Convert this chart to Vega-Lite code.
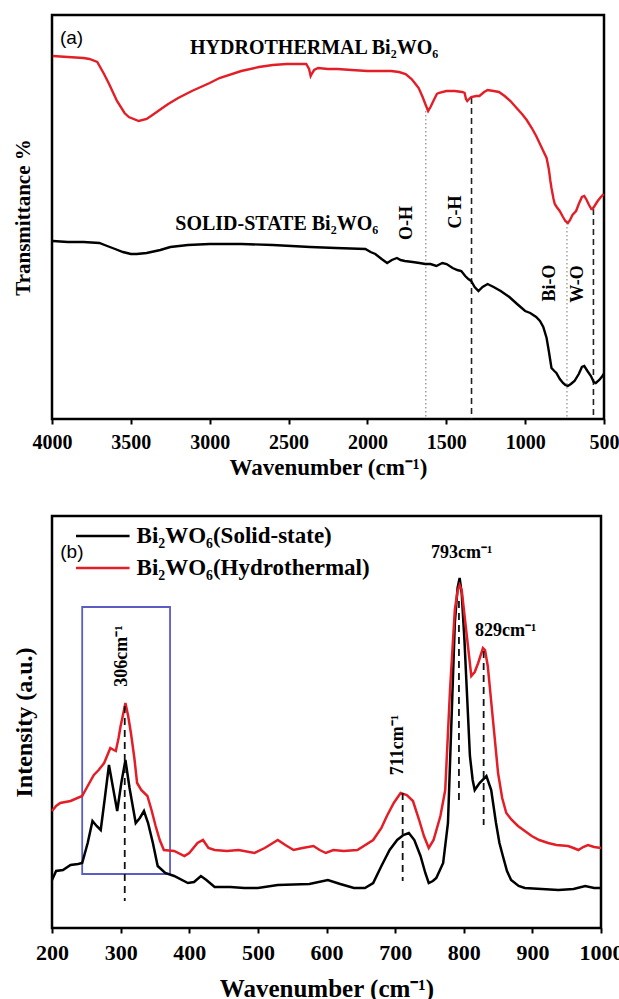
{
  "$schema": "https://vega.github.io/schema/vega-lite/v6.json",
  "background": "white",
  "padding": {"left": 10, "top": 13, "right": 0, "bottom": 0},
  "spacing": 33,
  "config": {
    "view": {"stroke": "#000", "strokeWidth": 2.5},
    "font": "Liberation Serif",
    "axis": {
      "labelFont": "Liberation Serif", "labelFontWeight": "bold", "labelFontSize": 20, "labelColor": "#000",
      "titleFont": "Liberation Serif", "titleFontWeight": "bold", "titleFontSize": 23, "titleColor": "#000",
      "domain": false, "grid": false, "tickColor": "#000", "tickWidth": 2, "tickSize": 5, "zindex": 1,
      "labelFlush": false, "labelOverlap": false
    }
  },
  "datasets": {
    "ftir": [
      {"sample":"Hydrothermal","wn":3995,"t":363},{"sample":"Hydrothermal","wn":3900,"t":362},{"sample":"Hydrothermal","wn":3800,"t":361},{"sample":"Hydrothermal","wn":3763,"t":360},{"sample":"Hydrothermal","wn":3713,"t":357},{"sample":"Hydrothermal","wn":3670,"t":345},{"sample":"Hydrothermal","wn":3638,"t":335},{"sample":"Hydrothermal","wn":3588,"t":318},{"sample":"Hydrothermal","wn":3540,"t":306},{"sample":"Hydrothermal","wn":3513,"t":302},{"sample":"Hydrothermal","wn":3450,"t":298},{"sample":"Hydrothermal","wn":3400,"t":300},{"sample":"Hydrothermal","wn":3363,"t":304},{"sample":"Hydrothermal","wn":3300,"t":311},{"sample":"Hydrothermal","wn":3263,"t":315},{"sample":"Hydrothermal","wn":3200,"t":321},{"sample":"Hydrothermal","wn":3113,"t":328},{"sample":"Hydrothermal","wn":3000,"t":336},{"sample":"Hydrothermal","wn":2938,"t":341},{"sample":"Hydrothermal","wn":2800,"t":348},{"sample":"Hydrothermal","wn":2688,"t":352},{"sample":"Hydrothermal","wn":2600,"t":354},{"sample":"Hydrothermal","wn":2513,"t":355},{"sample":"Hydrothermal","wn":2450,"t":355},{"sample":"Hydrothermal","wn":2388,"t":355},{"sample":"Hydrothermal","wn":2370,"t":350},{"sample":"Hydrothermal","wn":2360,"t":343},{"sample":"Hydrothermal","wn":2350,"t":346},{"sample":"Hydrothermal","wn":2338,"t":349},{"sample":"Hydrothermal","wn":2313,"t":351},{"sample":"Hydrothermal","wn":2250,"t":350},{"sample":"Hydrothermal","wn":2188,"t":350},{"sample":"Hydrothermal","wn":2100,"t":349},{"sample":"Hydrothermal","wn":2000,"t":348},{"sample":"Hydrothermal","wn":1938,"t":348},{"sample":"Hydrothermal","wn":1850,"t":348},{"sample":"Hydrothermal","wn":1800,"t":347},{"sample":"Hydrothermal","wn":1758,"t":345},{"sample":"Hydrothermal","wn":1720,"t":340},{"sample":"Hydrothermal","wn":1700,"t":336},{"sample":"Hydrothermal","wn":1675,"t":331},{"sample":"Hydrothermal","wn":1650,"t":322},{"sample":"Hydrothermal","wn":1633,"t":315},{"sample":"Hydrothermal","wn":1615,"t":308},{"sample":"Hydrothermal","wn":1600,"t":312},{"sample":"Hydrothermal","wn":1582,"t":318},{"sample":"Hydrothermal","wn":1560,"t":325},{"sample":"Hydrothermal","wn":1550,"t":326},{"sample":"Hydrothermal","wn":1500,"t":328},{"sample":"Hydrothermal","wn":1446,"t":328},{"sample":"Hydrothermal","wn":1400,"t":327},{"sample":"Hydrothermal","wn":1384,"t":326},{"sample":"Hydrothermal","wn":1375,"t":320},{"sample":"Hydrothermal","wn":1367,"t":318},{"sample":"Hydrothermal","wn":1355,"t":320},{"sample":"Hydrothermal","wn":1342,"t":322},{"sample":"Hydrothermal","wn":1310,"t":323},{"sample":"Hydrothermal","wn":1290,"t":323},{"sample":"Hydrothermal","wn":1260,"t":327},{"sample":"Hydrothermal","wn":1238,"t":329},{"sample":"Hydrothermal","wn":1200,"t":328},{"sample":"Hydrothermal","wn":1166,"t":327},{"sample":"Hydrothermal","wn":1130,"t":323},{"sample":"Hydrothermal","wn":1093,"t":318},{"sample":"Hydrothermal","wn":1060,"t":312},{"sample":"Hydrothermal","wn":1020,"t":305},{"sample":"Hydrothermal","wn":990,"t":299},{"sample":"Hydrothermal","wn":958,"t":291},{"sample":"Hydrothermal","wn":930,"t":283},{"sample":"Hydrothermal","wn":906,"t":275},{"sample":"Hydrothermal","wn":885,"t":268},{"sample":"Hydrothermal","wn":864,"t":261},{"sample":"Hydrothermal","wn":850,"t":250},{"sample":"Hydrothermal","wn":840,"t":238},{"sample":"Hydrothermal","wn":833,"t":231},{"sample":"Hydrothermal","wn":820,"t":220},{"sample":"Hydrothermal","wn":812,"t":215},{"sample":"Hydrothermal","wn":800,"t":212},{"sample":"Hydrothermal","wn":781,"t":208},{"sample":"Hydrothermal","wn":760,"t":202},{"sample":"Hydrothermal","wn":745,"t":198},{"sample":"Hydrothermal","wn":729,"t":196},{"sample":"Hydrothermal","wn":715,"t":199},{"sample":"Hydrothermal","wn":700,"t":204},{"sample":"Hydrothermal","wn":677,"t":208},{"sample":"Hydrothermal","wn":660,"t":215},{"sample":"Hydrothermal","wn":640,"t":222},{"sample":"Hydrothermal","wn":625,"t":223},{"sample":"Hydrothermal","wn":610,"t":219},{"sample":"Hydrothermal","wn":595,"t":214},{"sample":"Hydrothermal","wn":580,"t":210},{"sample":"Hydrothermal","wn":573,"t":210},{"sample":"Hydrothermal","wn":560,"t":213},{"sample":"Hydrothermal","wn":540,"t":218},{"sample":"Hydrothermal","wn":520,"t":222},{"sample":"Hydrothermal","wn":502,"t":225},
      {"sample":"Solid-state","wn":3995,"t":178},{"sample":"Solid-state","wn":3900,"t":177},{"sample":"Solid-state","wn":3800,"t":177},{"sample":"Solid-state","wn":3700,"t":176},{"sample":"Solid-state","wn":3650,"t":173},{"sample":"Solid-state","wn":3600,"t":170},{"sample":"Solid-state","wn":3550,"t":167},{"sample":"Solid-state","wn":3500,"t":165},{"sample":"Solid-state","wn":3463,"t":165},{"sample":"Solid-state","wn":3400,"t":166},{"sample":"Solid-state","wn":3313,"t":169},{"sample":"Solid-state","wn":3250,"t":172},{"sample":"Solid-state","wn":3138,"t":174},{"sample":"Solid-state","wn":3000,"t":175},{"sample":"Solid-state","wn":2800,"t":175},{"sample":"Solid-state","wn":2600,"t":174},{"sample":"Solid-state","wn":2363,"t":172},{"sample":"Solid-state","wn":2200,"t":171},{"sample":"Solid-state","wn":2013,"t":170},{"sample":"Solid-state","wn":1980,"t":167},{"sample":"Solid-state","wn":1950,"t":165},{"sample":"Solid-state","wn":1910,"t":160},{"sample":"Solid-state","wn":1875,"t":156},{"sample":"Solid-state","wn":1845,"t":159},{"sample":"Solid-state","wn":1813,"t":161},{"sample":"Solid-state","wn":1790,"t":159},{"sample":"Solid-state","wn":1763,"t":158},{"sample":"Solid-state","wn":1713,"t":157},{"sample":"Solid-state","wn":1670,"t":156},{"sample":"Solid-state","wn":1633,"t":155},{"sample":"Solid-state","wn":1600,"t":155},{"sample":"Solid-state","wn":1563,"t":153},{"sample":"Solid-state","wn":1525,"t":156},{"sample":"Solid-state","wn":1498,"t":155},{"sample":"Solid-state","wn":1460,"t":151},{"sample":"Solid-state","wn":1430,"t":149},{"sample":"Solid-state","wn":1405,"t":148},{"sample":"Solid-state","wn":1380,"t":143},{"sample":"Solid-state","wn":1360,"t":140},{"sample":"Solid-state","wn":1342,"t":138},{"sample":"Solid-state","wn":1320,"t":132},{"sample":"Solid-state","wn":1296,"t":128},{"sample":"Solid-state","wn":1270,"t":132},{"sample":"Solid-state","wn":1238,"t":135},{"sample":"Solid-state","wn":1200,"t":132},{"sample":"Solid-state","wn":1155,"t":128},{"sample":"Solid-state","wn":1100,"t":122},{"sample":"Solid-state","wn":1051,"t":115},{"sample":"Solid-state","wn":1000,"t":108},{"sample":"Solid-state","wn":968,"t":106},{"sample":"Solid-state","wn":930,"t":102},{"sample":"Solid-state","wn":906,"t":98},{"sample":"Solid-state","wn":885,"t":92},{"sample":"Solid-state","wn":864,"t":81},{"sample":"Solid-state","wn":850,"t":68},{"sample":"Solid-state","wn":840,"t":58},{"sample":"Solid-state","wn":833,"t":51},{"sample":"Solid-state","wn":815,"t":48},{"sample":"Solid-state","wn":802,"t":46},{"sample":"Solid-state","wn":780,"t":40},{"sample":"Solid-state","wn":760,"t":36},{"sample":"Solid-state","wn":745,"t":34},{"sample":"Solid-state","wn":729,"t":33},{"sample":"Solid-state","wn":710,"t":35},{"sample":"Solid-state","wn":687,"t":38},{"sample":"Solid-state","wn":660,"t":45},{"sample":"Solid-state","wn":640,"t":52},{"sample":"Solid-state","wn":625,"t":53},{"sample":"Solid-state","wn":605,"t":48},{"sample":"Solid-state","wn":583,"t":43},{"sample":"Solid-state","wn":565,"t":37},{"sample":"Solid-state","wn":552,"t":36},{"sample":"Solid-state","wn":530,"t":39},{"sample":"Solid-state","wn":510,"t":43},{"sample":"Solid-state","wn":502,"t":45}
    ],
    "ftirBands": [
      {"band":"O-H","wn":1630,"top":308,"kind":"dotted"},
      {"band":"C-H","wn":1340,"top":321,"kind":"dashed"},
      {"band":"Bi-O","wn":735,"top":196,"kind":"dotted"},
      {"band":"W-O","wn":567,"top":210,"kind":"dashed"}
    ],
    "ftirBandLabels": [
      {"label":"O-H","wn":1747,"t":196},
      {"label":"C-H","wn":1440,"t":207},
      {"label":"Bi-O","wn":843,"t":136},
      {"label":"W-O","wn":666,"t":135}
    ],
    "ftirNames": [
      {"label":"HYDROTHERMAL Bi₂WO₆","wn":2338,"t":371},
      {"label":"SOLID-STATE Bi₂WO₆","wn":2575,"t":195}
    ],
    "raman": [
      {"sample":"Solid-state","wn":200,"i":48},{"sample":"Solid-state","wn":206,"i":57},{"sample":"Solid-state","wn":216,"i":58},{"sample":"Solid-state","wn":227,"i":63},{"sample":"Solid-state","wn":238,"i":64},{"sample":"Solid-state","wn":244,"i":65},{"sample":"Solid-state","wn":252,"i":85},{"sample":"Solid-state","wn":259,"i":107},{"sample":"Solid-state","wn":265,"i":102},{"sample":"Solid-state","wn":271,"i":98},{"sample":"Solid-state","wn":277,"i":130},{"sample":"Solid-state","wn":283,"i":163},{"sample":"Solid-state","wn":289,"i":140},{"sample":"Solid-state","wn":295,"i":117},{"sample":"Solid-state","wn":301,"i":145},{"sample":"Solid-state","wn":307,"i":168},{"sample":"Solid-state","wn":313,"i":140},{"sample":"Solid-state","wn":322,"i":105},{"sample":"Solid-state","wn":328,"i":110},{"sample":"Solid-state","wn":334,"i":117},{"sample":"Solid-state","wn":340,"i":105},{"sample":"Solid-state","wn":347,"i":85},{"sample":"Solid-state","wn":354,"i":62},{"sample":"Solid-state","wn":365,"i":55},{"sample":"Solid-state","wn":378,"i":52},{"sample":"Solid-state","wn":398,"i":45},{"sample":"Solid-state","wn":407,"i":46},{"sample":"Solid-state","wn":417,"i":52},{"sample":"Solid-state","wn":425,"i":48},{"sample":"Solid-state","wn":437,"i":41},{"sample":"Solid-state","wn":460,"i":41},{"sample":"Solid-state","wn":480,"i":40},{"sample":"Solid-state","wn":500,"i":40},{"sample":"Solid-state","wn":529,"i":43},{"sample":"Solid-state","wn":575,"i":44},{"sample":"Solid-state","wn":602,"i":48},{"sample":"Solid-state","wn":620,"i":44},{"sample":"Solid-state","wn":640,"i":40},{"sample":"Solid-state","wn":656,"i":40},{"sample":"Solid-state","wn":668,"i":45},{"sample":"Solid-state","wn":680,"i":62},{"sample":"Solid-state","wn":692,"i":78},{"sample":"Solid-state","wn":703,"i":88},{"sample":"Solid-state","wn":712,"i":93},{"sample":"Solid-state","wn":720,"i":95},{"sample":"Solid-state","wn":728,"i":88},{"sample":"Solid-state","wn":737,"i":72},{"sample":"Solid-state","wn":744,"i":55},{"sample":"Solid-state","wn":749,"i":45},{"sample":"Solid-state","wn":755,"i":47},{"sample":"Solid-state","wn":760,"i":50},{"sample":"Solid-state","wn":770,"i":65},{"sample":"Solid-state","wn":777,"i":105},{"sample":"Solid-state","wn":782,"i":205},{"sample":"Solid-state","wn":787,"i":305},{"sample":"Solid-state","wn":791,"i":340},{"sample":"Solid-state","wn":794,"i":350},{"sample":"Solid-state","wn":797,"i":335},{"sample":"Solid-state","wn":801,"i":288},{"sample":"Solid-state","wn":805,"i":230},{"sample":"Solid-state","wn":809,"i":172},{"sample":"Solid-state","wn":813,"i":148},{"sample":"Solid-state","wn":816,"i":138},{"sample":"Solid-state","wn":823,"i":145},{"sample":"Solid-state","wn":833,"i":152},{"sample":"Solid-state","wn":840,"i":138},{"sample":"Solid-state","wn":847,"i":105},{"sample":"Solid-state","wn":852,"i":85},{"sample":"Solid-state","wn":857,"i":72},{"sample":"Solid-state","wn":863,"i":57},{"sample":"Solid-state","wn":869,"i":48},{"sample":"Solid-state","wn":880,"i":42},{"sample":"Solid-state","wn":889,"i":40},{"sample":"Solid-state","wn":938,"i":38},{"sample":"Solid-state","wn":960,"i":39},{"sample":"Solid-state","wn":977,"i":42},{"sample":"Solid-state","wn":990,"i":40},{"sample":"Solid-state","wn":1000,"i":40},
      {"sample":"Hydrothermal","wn":200,"i":117},{"sample":"Hydrothermal","wn":206,"i":122},{"sample":"Hydrothermal","wn":212,"i":125},{"sample":"Hydrothermal","wn":227,"i":127},{"sample":"Hydrothermal","wn":244,"i":132},{"sample":"Hydrothermal","wn":252,"i":142},{"sample":"Hydrothermal","wn":261,"i":153},{"sample":"Hydrothermal","wn":268,"i":158},{"sample":"Hydrothermal","wn":276,"i":165},{"sample":"Hydrothermal","wn":285,"i":180},{"sample":"Hydrothermal","wn":290,"i":178},{"sample":"Hydrothermal","wn":293,"i":177},{"sample":"Hydrothermal","wn":297,"i":190},{"sample":"Hydrothermal","wn":300,"i":202},{"sample":"Hydrothermal","wn":304,"i":215},{"sample":"Hydrothermal","wn":307,"i":225},{"sample":"Hydrothermal","wn":311,"i":212},{"sample":"Hydrothermal","wn":315,"i":195},{"sample":"Hydrothermal","wn":320,"i":170},{"sample":"Hydrothermal","wn":324,"i":145},{"sample":"Hydrothermal","wn":330,"i":138},{"sample":"Hydrothermal","wn":339,"i":132},{"sample":"Hydrothermal","wn":345,"i":118},{"sample":"Hydrothermal","wn":351,"i":102},{"sample":"Hydrothermal","wn":357,"i":88},{"sample":"Hydrothermal","wn":363,"i":78},{"sample":"Hydrothermal","wn":378,"i":77},{"sample":"Hydrothermal","wn":393,"i":72},{"sample":"Hydrothermal","wn":400,"i":75},{"sample":"Hydrothermal","wn":412,"i":85},{"sample":"Hydrothermal","wn":420,"i":88},{"sample":"Hydrothermal","wn":428,"i":80},{"sample":"Hydrothermal","wn":437,"i":78},{"sample":"Hydrothermal","wn":455,"i":77},{"sample":"Hydrothermal","wn":472,"i":78},{"sample":"Hydrothermal","wn":495,"i":75},{"sample":"Hydrothermal","wn":510,"i":80},{"sample":"Hydrothermal","wn":529,"i":88},{"sample":"Hydrothermal","wn":540,"i":83},{"sample":"Hydrothermal","wn":552,"i":78},{"sample":"Hydrothermal","wn":565,"i":80},{"sample":"Hydrothermal","wn":581,"i":82},{"sample":"Hydrothermal","wn":590,"i":78},{"sample":"Hydrothermal","wn":599,"i":75},{"sample":"Hydrothermal","wn":610,"i":78},{"sample":"Hydrothermal","wn":625,"i":77},{"sample":"Hydrothermal","wn":645,"i":78},{"sample":"Hydrothermal","wn":668,"i":88},{"sample":"Hydrothermal","wn":680,"i":100},{"sample":"Hydrothermal","wn":688,"i":112},{"sample":"Hydrothermal","wn":698,"i":125},{"sample":"Hydrothermal","wn":708,"i":135},{"sample":"Hydrothermal","wn":717,"i":133},{"sample":"Hydrothermal","wn":726,"i":127},{"sample":"Hydrothermal","wn":735,"i":108},{"sample":"Hydrothermal","wn":742,"i":92},{"sample":"Hydrothermal","wn":749,"i":80},{"sample":"Hydrothermal","wn":756,"i":88},{"sample":"Hydrothermal","wn":766,"i":112},{"sample":"Hydrothermal","wn":773,"i":138},{"sample":"Hydrothermal","wn":780,"i":238},{"sample":"Hydrothermal","wn":787,"i":318},{"sample":"Hydrothermal","wn":791,"i":337},{"sample":"Hydrothermal","wn":794,"i":343},{"sample":"Hydrothermal","wn":797,"i":338},{"sample":"Hydrothermal","wn":804,"i":295},{"sample":"Hydrothermal","wn":811,"i":252},{"sample":"Hydrothermal","wn":816,"i":256},{"sample":"Hydrothermal","wn":821,"i":265},{"sample":"Hydrothermal","wn":828,"i":280},{"sample":"Hydrothermal","wn":831,"i":278},{"sample":"Hydrothermal","wn":835,"i":262},{"sample":"Hydrothermal","wn":843,"i":205},{"sample":"Hydrothermal","wn":850,"i":155},{"sample":"Hydrothermal","wn":856,"i":130},{"sample":"Hydrothermal","wn":862,"i":115},{"sample":"Hydrothermal","wn":870,"i":108},{"sample":"Hydrothermal","wn":879,"i":102},{"sample":"Hydrothermal","wn":889,"i":97},{"sample":"Hydrothermal","wn":899,"i":92},{"sample":"Hydrothermal","wn":910,"i":88},{"sample":"Hydrothermal","wn":923,"i":85},{"sample":"Hydrothermal","wn":935,"i":83},{"sample":"Hydrothermal","wn":952,"i":82},{"sample":"Hydrothermal","wn":960,"i":80},{"sample":"Hydrothermal","wn":967,"i":78},{"sample":"Hydrothermal","wn":974,"i":81},{"sample":"Hydrothermal","wn":981,"i":83},{"sample":"Hydrothermal","wn":990,"i":81},{"sample":"Hydrothermal","wn":1000,"i":80}
    ],
    "ramanPeaks": [
      {"peak":306,"top":222,"bottom":27},
      {"peak":711,"top":135,"bottom":47},
      {"peak":793,"top":327,"bottom":128},
      {"peak":829,"top":277,"bottom":103}
    ],
    "ramanPeakLabelsV": [
      {"label":"306cm⁻¹","wn":302,"i":272},
      {"label":"711cm⁻¹","wn":704,"i":183}
    ],
    "ramanPeakLabelsH": [
      {"label":"793cm⁻¹","wn":797,"i":375},
      {"label":"829cm⁻¹","wn":861,"i":297}
    ],
    "ramanBox": [{"x1":244,"x2":372,"y1":54,"y2":321}],
    "ramanLegend": [
      {"sample":"Solid-state","label":"Bi₂WO₆(Solid-state)","x1":235,"x2":313,"i":392},
      {"sample":"Hydrothermal","label":"Bi₂WO₆(Hydrothermal)","x1":235,"x2":313,"i":360}
    ]
  },
  "vconcat": [
    {
      "width": 552,
      "height": 404,
      "layer": [
        {
          "data": {"name": "ftirBands"},
          "transform": [{"filter": "datum.kind === 'dotted'"}],
          "mark": {"type": "rule", "color": "#8a8a8a", "strokeWidth": 1.2, "strokeDash": [1.5, 2.5]},
          "encoding": {
            "x": {"field": "wn", "type": "quantitative"},
            "y": {"field": "top", "type": "quantitative"},
            "y2": {"datum": 0}
          }
        },
        {
          "data": {"name": "ftirBands"},
          "transform": [{"filter": "datum.kind === 'dashed'"}],
          "mark": {"type": "rule", "color": "#222", "strokeWidth": 1.6, "strokeDash": [6, 4]},
          "encoding": {
            "x": {"field": "wn", "type": "quantitative"},
            "y": {"field": "top", "type": "quantitative"},
            "y2": {"datum": 0}
          }
        },
        {
          "data": {"name": "ftir"},
          "mark": {"type": "line", "strokeWidth": 2.4},
          "encoding": {
            "x": {
              "field": "wn", "type": "quantitative",
              "scale": {"domain": [500, 4000], "reverse": true, "nice": false, "zero": false},
              "axis": {
                "title": "Wavenumber (cm⁻¹)",
                "values": [4000, 3750, 3500, 3250, 3000, 2750, 2500, 2250, 2000, 1750, 1500, 1250, 1000, 750, 500],
                "labelExpr": "datum.value % 500 === 0 ? datum.label : ''",
                "format": "d",
                "labelPadding": 8,
                "titlePadding": 4
              }
            },
            "y": {
              "field": "t", "type": "quantitative",
              "scale": {"domain": [0, 404], "nice": false},
              "axis": {"title": "Transmittance %", "titleFontSize": 21, "labels": false, "ticks": false, "titlePadding": 19}
            },
            "color": {
              "field": "sample", "type": "nominal",
              "scale": {"domain": ["Hydrothermal", "Solid-state"], "range": ["#e31e26", "#000000"]},
              "legend": null
            }
          }
        },
        {
          "data": {"name": "ftirBandLabels"},
          "mark": {"type": "text", "angle": 270, "font": "Liberation Serif", "fontWeight": "bold", "fontSize": 18, "align": "center", "baseline": "middle", "color": "#000"},
          "encoding": {
            "x": {"field": "wn", "type": "quantitative"},
            "y": {"field": "t", "type": "quantitative"},
            "text": {"field": "label"}
          }
        },
        {
          "data": {"name": "ftirNames"},
          "mark": {"type": "text", "font": "Liberation Serif", "fontWeight": "bold", "fontSize": 20, "align": "center", "baseline": "middle", "color": "#000"},
          "encoding": {
            "x": {"field": "wn", "type": "quantitative"},
            "y": {"field": "t", "type": "quantitative"},
            "text": {"field": "label"}
          }
        },
        {
          "data": {"values": [{"label": "(a)", "wn": 3950, "t": 381}]},
          "mark": {"type": "text", "font": "Liberation Sans", "fontSize": 19, "align": "left", "baseline": "middle", "color": "#000"},
          "encoding": {
            "x": {"field": "wn", "type": "quantitative"},
            "y": {"field": "t", "type": "quantitative"},
            "text": {"field": "label"}
          }
        }
      ]
    },
    {
      "width": 549,
      "height": 412,
      "layer": [
        {
          "data": {"name": "ramanBox"},
          "mark": {"type": "rect", "fill": null, "fillOpacity": 0, "stroke": "#5b5bc4", "strokeWidth": 1.8},
          "encoding": {
            "x": {"field": "x1", "type": "quantitative"},
            "x2": {"field": "x2"},
            "y": {"field": "y1", "type": "quantitative"},
            "y2": {"field": "y2"}
          }
        },
        {
          "data": {"name": "raman"},
          "mark": {"type": "line", "strokeWidth": 2.5},
          "encoding": {
            "x": {
              "field": "wn", "type": "quantitative",
              "scale": {"domain": [200, 1000], "nice": false, "zero": false},
              "axis": {
                "title": "Wavenumber (cm⁻¹)",
                "titleFontSize": 25,
                "labelFontSize": 22,
                "values": [200, 250, 300, 350, 400, 450, 500, 550, 600, 650, 700, 750, 800, 850, 900, 950, 1000],
                "labelExpr": "datum.value % 100 === 0 ? datum.label : ''",
                "format": "d",
                "labelPadding": 9,
                "titlePadding": 13
              }
            },
            "y": {
              "field": "i", "type": "quantitative",
              "scale": {"domain": [0, 412], "nice": false},
              "axis": {"title": "Intensity (a.u.)", "titleFontSize": 24, "labels": false, "ticks": false, "titlePadding": 16}
            },
            "color": {
              "field": "sample", "type": "nominal",
              "scale": {"domain": ["Hydrothermal", "Solid-state"], "range": ["#e31e26", "#000000"]},
              "legend": null
            },
            "order": {"field": "wn", "type": "quantitative"}
          }
        },
        {
          "data": {"name": "ramanPeaks"},
          "mark": {"type": "rule", "color": "#111", "strokeWidth": 1.8, "strokeDash": [7, 5]},
          "encoding": {
            "x": {"field": "peak", "type": "quantitative"},
            "y": {"field": "top", "type": "quantitative"},
            "y2": {"field": "bottom"}
          }
        },
        {
          "data": {"name": "ramanPeakLabelsV"},
          "mark": {"type": "text", "angle": 270, "font": "Liberation Serif", "fontWeight": "bold", "fontSize": 18, "align": "center", "baseline": "middle", "color": "#000"},
          "encoding": {
            "x": {"field": "wn", "type": "quantitative"},
            "y": {"field": "i", "type": "quantitative"},
            "text": {"field": "label"}
          }
        },
        {
          "data": {"name": "ramanPeakLabelsH"},
          "mark": {"type": "text", "font": "Liberation Serif", "fontWeight": "bold", "fontSize": 18, "align": "center", "baseline": "middle", "color": "#000"},
          "encoding": {
            "x": {"field": "wn", "type": "quantitative"},
            "y": {"field": "i", "type": "quantitative"},
            "text": {"field": "label"}
          }
        },
        {
          "data": {"name": "ramanLegend"},
          "mark": {"type": "rule", "strokeWidth": 2.4},
          "encoding": {
            "x": {"field": "x1", "type": "quantitative"},
            "x2": {"field": "x2"},
            "y": {"field": "i", "type": "quantitative"},
            "color": {
              "field": "sample", "type": "nominal",
              "scale": {"domain": ["Hydrothermal", "Solid-state"], "range": ["#e31e26", "#000000"]},
              "legend": null
            }
          }
        },
        {
          "data": {"name": "ramanLegend"},
          "mark": {"type": "text", "font": "Liberation Serif", "fontWeight": "bold", "fontSize": 23, "align": "left", "baseline": "middle", "dx": 7, "color": "#000"},
          "encoding": {
            "x": {"field": "x2", "type": "quantitative"},
            "y": {"field": "i", "type": "quantitative"},
            "text": {"field": "label"}
          }
        },
        {
          "data": {"values": [{"label": "(b)", "wn": 212, "i": 376}]},
          "mark": {"type": "text", "font": "Liberation Sans", "fontSize": 19, "align": "left", "baseline": "middle", "color": "#000"},
          "encoding": {
            "x": {"field": "wn", "type": "quantitative"},
            "y": {"field": "i", "type": "quantitative"},
            "text": {"field": "label"}
          }
        }
      ]
    }
  ]
}
